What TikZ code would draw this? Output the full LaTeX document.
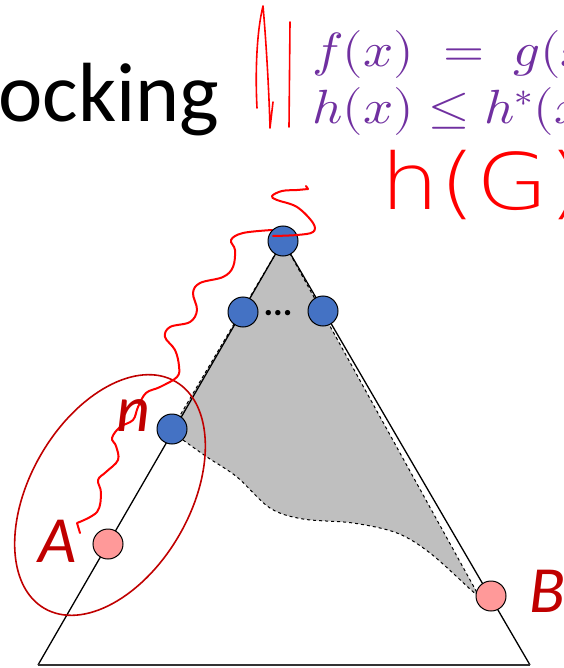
\documentclass[tikz,border=0pt]{standalone}
\usepackage{fontspec}
\usepackage{amsmath,amssymb}
\usepackage{unicode-math}
\usetikzlibrary{positioning,calc}
\setmainfont{Carlito}
\newfontfamily\handfont{DejaVu Sans ExtraLight}
\definecolor{nodeblue}{HTML}{4472C4}
\definecolor{nodepink}{HTML}{FF9999}
\definecolor{darkred}{HTML}{C00000}
\definecolor{inkred}{HTML}{FF0000}
\definecolor{mathpurple}{HTML}{7030A0}
\definecolor{shadegray}{HTML}{BFBFBF}

\begin{document}
\begin{tikzpicture}[
    x=1pt, y=-1pt,
    state/.style={
      circle, draw=black, line width=1pt, fill=#1,
      minimum size=30pt, inner sep=0pt,
    },
    ink/.style={inkred, line width=2pt, line cap=round, line join=round},
    letter/.style={font=\fontsize{66}{70}\selectfont\itshape, text=darkred, inner sep=0pt},
    eqn/.style={font=\fontsize{48}{54}\selectfont, text=mathpurple, anchor=base west, inner sep=0pt, xscale=1.1},
  ]

  % frame of the slide crop
  \useasboundingbox (0,0) rectangle (563,668);
  \clip (0,0) rectangle (563,668);

  % =================== TITLE AND NOTES ===================
  \node[font=\fontsize{84}{90}\selectfont, anchor=base west, inner sep=0pt] (title) at (-2,122) {ocking};
  \node[eqn] (eq1) at (312,67) {$f(x) \;=\; g(x)$};
  \node[eqn] (eq2) at (312,124) {$h(x) \le h^*(x)$};

  % pen marks before the equations
  \draw[ink, line width=1.6pt] (257,108) .. controls (255,70) and (257,30) .. (263,6)
    .. controls (266,40) and (269,90) .. (270,128) -- (273,102);
  \draw[ink, line width=1.6pt] (290,22) -- (289,127);

  % handwritten h(G)
  \node[font=\handfont\fontsize{78}{84}\selectfont, text=inkred, anchor=base west, inner sep=0pt, xscale=1.2] (hG) at (380,210) {h(G)};

  % =================== TRIANGLE ===================
  \coordinate (T) at (283,241);
  \coordinate (BL) at (38,665);
  \coordinate (BR) at (530,665);

  % shaded part, dashed border
  \draw[dashed, line width=1pt, fill=shadegray] (T) -- (172,429)
    -- plot[smooth, tension=0.55] coordinates {(183,440) (207,457) (237,477) (270,508) (303,519) (353,523) (397,533) (430,553) (470,589) (480,598)}
    -- cycle;

  % outline
  \draw[line width=1.3pt] (BL) -- (T) -- (BR);
  \draw[line width=2pt, black!80] (BL) -- (BR);

  % ellipse round A and n
  \coordinate (E) at (110,495);
  \draw[darkred, line width=1.6pt, rotate around={60:(E)}] (E) ellipse [x radius=131, y radius=80];

  % long wiggle, first stroke (under the nodes)
  \draw[ink] (80,533) -- plot[smooth, tension=0.6] coordinates {(77,523) (97,512) (101,493) (98,480) (106,472) (118,460) (116,446) (112,438) (120,427) (133,420) (138,407) (146,393) (160,387) (177,377) (179,366) (175,350) (165,337) (170,327) (190,322) (197,310) (193,293) (200,283) (223,277) (233,267) (235,250) (231,240) (243,233) (272,230)};

  % =================== NODES ===================
  \node[state=nodeblue] (top) at (T) {};
  \node[state=nodeblue] (midl) at (243,312) {};
  \node[state=nodeblue] (midr) at (323,311) {};
  \node[state=nodeblue] (n) at (172,429) {};
  \node[state=nodepink] (a) at (108,544) {};
  \node[state=nodepink] (b) at (491,596) {};
  \node[font=\fontsize{36}{40}\selectfont\bfseries, inner sep=0pt] (dots) at (278,313) {...};

  % labels
  \node[letter] (lblA) at (58,541) {A};
  \node[letter] (lblB) at (547,591) {B};
  \node[letter] (lbln) at (133,416) {n};

  % wiggle, second stroke (over the top node)
  \draw[ink] plot[smooth, tension=0.6] coordinates {(273,236) (297,235) (313,232) (313,223) (297,207) (277,200) (272,196) (282,191) (297,190) (308,189)} -- (306,186);

\end{tikzpicture}
\end{document}
